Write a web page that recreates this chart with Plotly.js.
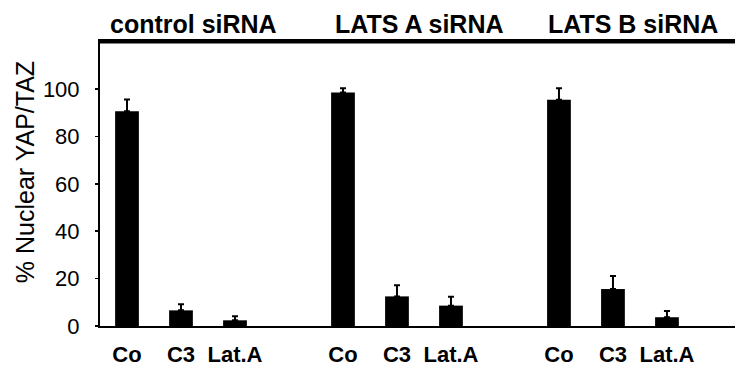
<!DOCTYPE html>
<html>
<head>
<meta charset="utf-8">
<script src="https://cdn.plot.ly/plotly-3.0.1.min.js"></script>
<style>html,body{margin:0;padding:0;background:#fff;}#chart{width:735px;height:366px;}</style>
</head>
<body>
<div id="chart"></div>
<script>
// Data
var groups = ["control siRNA", "LATS A siRNA", "LATS B siRNA"];
var conditions = ["Co", "C3", "Lat.A"];
var coValues = [90.6, 98.6, 95.5];
var coErrors = [5.0, 1.8, 4.9];
var c3Values = [6.6, 12.5, 15.6];
var c3Errors = [2.6, 4.7, 5.5];
var latAValues = [2.4, 8.6, 3.7];
var latAErrors = [1.7, 3.7, 2.6];
var yTickVals = [0, 20, 40, 60, 80, 100];
var yTitle = "% Nuclear YAP/TAZ";

var seriesValues = [coValues, c3Values, latAValues];
var seriesErrors = [coErrors, c3Errors, latAErrors];

// Build flat arrays (slot positions: 4 slots per group, last left empty)
var xs = [], ys = [], es = [], zeros = [], tickVals = [], tickText = [];
for (var g = 0; g < groups.length; g++) {
  for (var c = 0; c < conditions.length; c++) {
    var pos = g * 4 + c;
    xs.push(pos);
    ys.push(seriesValues[c][g]);
    es.push(seriesErrors[c][g]);
    zeros.push(0);
    tickVals.push(pos);
    tickText.push("<b>" + conditions[c] + "</b>");
  }
}

var FONT = "Liberation Sans, Arial, sans-serif";

var trace = {
  type: "bar",
  x: xs,
  y: ys,
  width: 0.44,
  marker: {color: "#000000", line: {width: 0}},
  error_y: {
    type: "data",
    symmetric: false,
    array: es,
    arrayminus: zeros,
    color: "#000000",
    thickness: 2,
    width: 3
  },
  hoverinfo: "none",
  cliponaxis: false
};

var groupTitleX = [1.24, 5.41, 9.37];
var annotations = groups.map(function (gname, i) {
  return {
    text: "<b>" + gname + "</b>",
    x: groupTitleX[i], xref: "x",
    y: 1, yref: "paper",
    yanchor: "bottom", yshift: 1,
    showarrow: false,
    font: {family: FONT, size: 25, color: "#000"}
  };
});
annotations.push({
  text: yTitle,
  xref: "paper", x: -0.118, xanchor: "center",
  yref: "paper", y: 0.54, yanchor: "middle",
  textangle: -90,
  showarrow: false,
  font: {family: FONT, size: 25, color: "#000"}
});

var layout = {
  width: 735,
  height: 366,
  margin: {l: 100, r: 0, t: 41, b: 40, pad: 0},
  paper_bgcolor: "#ffffff",
  plot_bgcolor: "#ffffff",
  showlegend: false,
  font: {family: FONT, color: "#000"},
  xaxis: {
    range: [-0.5, 11.26],
    tickmode: "array",
    tickvals: tickVals,
    ticktext: tickText,
    tickfont: {family: FONT, size: 22, color: "#000"},
    ticks: "",
    ticklabelstandoff: 8,
    showline: true,
    linecolor: "#000",
    linewidth: 2,
    mirror: "all",
    showgrid: false,
    zeroline: false,
    fixedrange: true
  },
  yaxis: {
    range: [0, 120.3],
    tickmode: "array",
    tickvals: yTickVals,
    ticktext: yTickVals.map(String),
    tickfont: {family: FONT, size: 22, color: "#000"},
    ticks: "outside",
    ticklen: 3,
    tickwidth: 1.5,
    tickcolor: "#000",
    ticklabelstandoff: 11,
    showline: true,
    linecolor: "#000",
    linewidth: 2,
    showgrid: false,
    zeroline: false,
    fixedrange: true
  },
  shapes: [{
    type: "line", xref: "paper", yref: "paper", layer: "above",
    x0: 0, x1: 1, y0: 0.996, y1: 0.996,
    line: {color: "#000000", width: 2.5}
  }],
  annotations: annotations
};

Plotly.newPlot("chart", [trace], layout, {displayModeBar: false, staticPlot: true});
</script>
</body>
</html>
